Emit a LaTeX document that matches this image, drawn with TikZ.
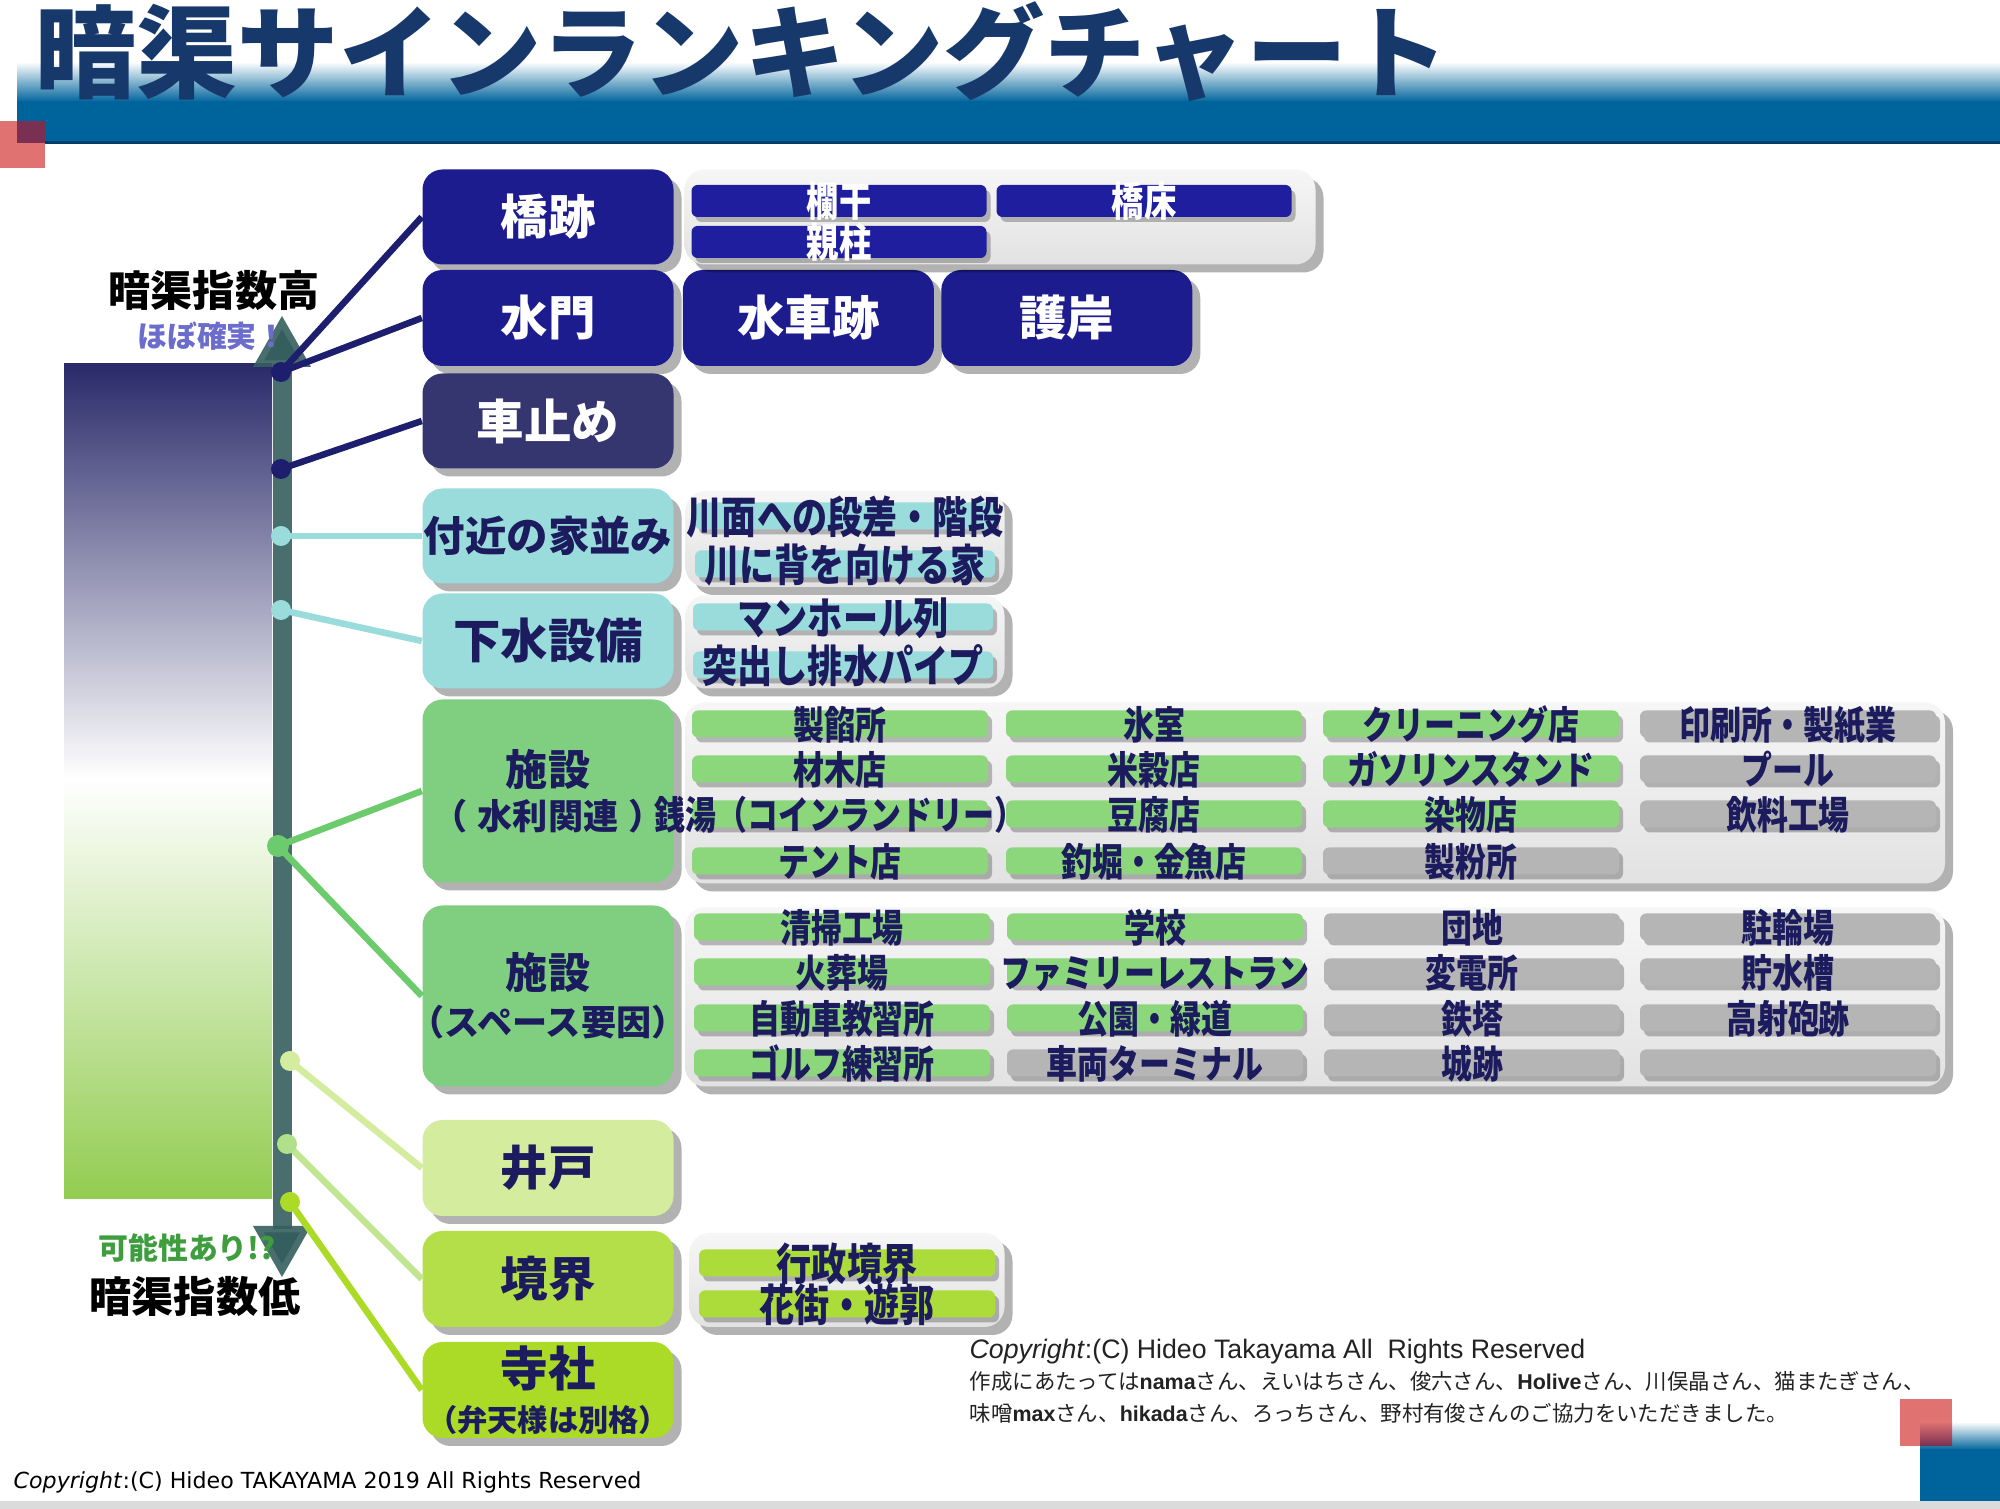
\documentclass[tikz,border=0pt]{standalone}
\usepackage{fontspec}
\setmainfont{Noto Sans CJK JP}
\newfontfamily\jpcond{Noto Sans CJK JP}[FakeStretch=0.8]
\newfontfamily\verdanalike{DejaVu Sans}
\newfontfamily\ariallike{Liberation Sans}
\usepackage{tikz}
\usetikzlibrary{arrows.meta,positioning,shadows}
\definecolor{bandblue}{HTML}{00649C}
\definecolor{bandline}{HTML}{003F6B}
\definecolor{markred}{HTML}{E07272}
\definecolor{markdark}{HTML}{7A3052}
\definecolor{titlenavy}{HTML}{17386A}
\definecolor{scalenavy}{HTML}{2A2A6A}
\definecolor{scalegreen}{HTML}{92CC50}
\definecolor{axisslate}{HTML}{355F5F}
\definecolor{hiblue}{HTML}{6C6CCC}
\definecolor{lowgreen}{HTML}{3E9E3E}
\definecolor{signnavy}{HTML}{1C1C8E}
\definecolor{barnavy}{HTML}{1E1E9E}
\definecolor{stopnavy}{HTML}{35356F}
\definecolor{inknavy}{HTML}{1B1B5E}
\definecolor{linknavy}{HTML}{1E1E6E}
\definecolor{housecyan}{HTML}{9ADCDC}
\definecolor{facgreen}{HTML}{80CF80}
\definecolor{faclink}{HTML}{6CCB6C}
\definecolor{itemgreen}{HTML}{8CD67C}
\definecolor{itemgray}{HTML}{B5B5B5}
\definecolor{wellgreen}{HTML}{D3EC9E}
\definecolor{bordergreen}{HTML}{B4DF48}
\definecolor{borderlink}{HTML}{C2E592}
\definecolor{borderbar}{HTML}{ACDC3A}
\definecolor{shrinegreen}{HTML}{ABDB26}
\definecolor{panelhi}{HTML}{F6F6F6}
\definecolor{panellow}{HTML}{E2E2E2}
\definecolor{creditink}{HTML}{222222}

\begin{document}
\begin{tikzpicture}[
  x=0.1mm, y=-0.1mm,
  softshadow/.style={drop shadow={shadow xshift=0.8mm,shadow yshift=-0.8mm,opacity=0.3,fill=black}},
  barshadow/.style={drop shadow={shadow xshift=0.4mm,shadow yshift=-0.5mm,opacity=0.25,fill=black}},
  sign/.style={rounded corners=2mm,minimum width=25.1mm,minimum height=9.5mm,inner xsep=-3mm,inner ysep=0pt,align=center,font=\bfseries\fontsize{13.5}{16}\selectfont,softshadow},
  navysign/.style={sign,fill=signnavy,text=white},
  stopsign/.style={sign,fill=stopnavy,text=white},
  housesign/.style={sign,fill=housecyan,text=inknavy},
  facsign/.style={sign,fill=facgreen,text=inknavy,minimum height=18.3mm,font=\bfseries\fontsize{12}{12.5}\selectfont},
  wellsign/.style={sign,fill=wellgreen,text=inknavy},
  bordersign/.style={sign,fill=bordergreen,text=inknavy},
  shrinesign/.style={sign,fill=shrinegreen,text=inknavy},
  panel/.style={rounded corners=2mm,inner sep=0pt,top color=panelhi,bottom color=panellow,softshadow},
  item/.style={rounded corners=0.6mm,minimum width=29.6mm,minimum height=2.7mm,inner xsep=-5mm,inner ysep=-5mm,text height=3.8mm,text depth=0.6mm,text=inknavy,font=\jpcond\bfseries\fontsize{11}{11}\selectfont,barshadow},
  bigitem/.style={item,text height=4.2mm,text depth=0.7mm,font=\jpcond\bfseries\fontsize{12.5}{12.5}\selectfont},
  navyitem/.style={item,fill=barnavy,text=white,minimum width=29.5mm,minimum height=3.2mm,font=\jpcond\bfseries\fontsize{11.5}{11.5}\selectfont},
  houseitem/.style={bigitem,fill=housecyan,minimum width=30mm},
  borderitem/.style={bigitem,fill=borderbar},
  gitem/.style={item,fill=itemgreen},
  nitem/.style={item,fill=itemgray},
  link/.style={line width=0.65mm},
  axisarrow/.style={draw=axisslate,line width=1.9mm,{Triangle[width=5.4mm,length=5.2mm]}-{Triangle[width=5.4mm,length=5.2mm]}}
]
\useasboundingbox (0,0) rectangle (2000,1509);
\fill[white] (0,0) rectangle (2000,1509);
\shade[top color=white,bottom color=bandblue] (17,62) rectangle (2000,102);
\fill[bandblue] (17,101) rectangle (2000,143);
\draw[bandline,line width=0.3mm] (17,143) -- (2000,143);
\fill[markred] (0,121) rectangle (45,168);
\fill[markdark] (17,121) rectangle (45,143);
\shade[top color=white,bottom color=bandblue] (1920,1422) rectangle (2000,1450);
\fill[bandblue] (1920,1449) rectangle (2000,1501);
\fill[markred] (1900,1399) rectangle (1952,1446);
\shade[top color=markred,bottom color=markdark] (1920,1422) rectangle (1952,1446);
\fill[black!14] (0,1501) rectangle (2000,1509);

\node[inner sep=0pt,text=titlenavy,font=\bfseries\fontsize{28.8}{30}\selectfont] (title) at (742,52) {暗渠サインランキングチャート};

\shade[top color=scalenavy,bottom color=white] (64,364) rectangle (272,779);
\shade[top color=white,bottom color=scalegreen] (64,778) rectangle (272,1199);
\coordinate (axisTop) at (282,315);
\coordinate (axisBottom) at (282,1278);
\draw[axisarrow,draw opacity=0.9] (axisTop) -- (axisBottom);
\node[font=\bfseries\fontsize{12}{14}\selectfont] (highIdx) at (214,291) {暗渠指数高};
\node[text=hiblue,font=\bfseries\fontsize{8.5}{10}\selectfont] (almostSure) at (212,336) {ほぼ確実！};
\node[text=lowgreen,font=\bfseries\fontsize{8.5}{10}\selectfont] (maybe) at (187,1248) {可能性あり!?};
\node[font=\bfseries\fontsize{12}{14}\selectfont] (lowIdx) at (195,1297) {暗渠指数低};

\node[navysign] (kyoseki) at (548,217) {橋跡};
\node[navysign,minimum height=9.6mm] (suimon) at (548,318) {水門};
\node[navysign,right=0.8mm of suimon,minimum height=9.6mm] (suisha) {水車跡};
\node[navysign,right=0.6mm of suisha,minimum height=9.6mm] (goshi) {護岸};
\node[stopsign] (kurumadome) at (548,421) {車止め};
\node[housesign,font=\bfseries\fontsize{11.8}{14}\selectfont] (yanami) at (548,536) {付近の家並み};
\node[housesign] (gesui) at (548,641) {下水設備};
\node[facsign] (facWater) at (548,791) {施設\\{\fontsize{10}{12}\selectfont （\hspace{0.3em}水利関連\hspace{0.3em}）}};
\node[facsign,minimum height=18.1mm,font=\bfseries\fontsize{12}{13.4}\selectfont] (facSpace) at (548,996) {施設\\{\fontsize{10}{12}\selectfont （スペース要因）}};
\node[wellsign,minimum height=9.6mm] (ido) at (548,1168) {井戸};
\node[bordersign,minimum height=9.6mm] (kyokai) at (548,1279) {境界};
\node[shrinesign,minimum height=9.6mm,font=\bfseries\fontsize{13.5}{12.8}\selectfont] (jisha) at (548,1390) {寺社\\{\fontsize{8.6}{10}\selectfont （弁天様は別格）}};

\coordinate (dotHigh) at (281,372);
\coordinate (dotStop) at (281,469);
\coordinate (dotHouse) at (281,536);
\coordinate (dotSewer) at (281,610);
\coordinate (dotFac) at (278,846);
\coordinate (dotWell) at (290,1061);
\coordinate (dotBorder) at (287,1144);
\coordinate (dotShrine) at (290,1202);
\draw[link,linknavy] (dotHigh) -- (kyoseki.west);
\draw[link,linknavy] (dotHigh) -- (suimon.west);
\draw[link,linknavy] (dotStop) -- (kurumadome.west);
\draw[link,housecyan] (dotHouse) -- (yanami.west);
\draw[link,housecyan] (dotSewer) -- (gesui.west);
\draw[link,faclink] (dotFac) -- (facWater.west);
\draw[link,faclink] (dotFac) -- (facSpace.west);
\draw[link,wellgreen] (dotWell) -- (ido.west);
\draw[link,borderlink] (dotBorder) -- (kyokai.west);
\draw[link,shrinegreen] (dotShrine) -- (jisha.west);
\fill[linknavy] (dotHigh) circle (1mm);
\fill[linknavy] (dotStop) circle (1mm);
\fill[housecyan] (dotHouse) circle (1mm);
\fill[housecyan] (dotSewer) circle (1mm);
\fill[faclink] (dotFac) circle (1.1mm);
\fill[wellgreen] (dotWell) circle (1mm);
\fill[borderlink!80!faclink] (dotBorder) circle (1mm);
\fill[shrinegreen] (dotShrine) circle (1mm);

\node[panel,minimum width=63.1mm,minimum height=9.5mm] (pBridge) at (1000,217) {};
\node[navyitem] (rankan) at (839,201) {欄干};
\node[navyitem] (kyosho) at (1144,201) {橋床};
\node[navyitem] (oyabashira) at (839,242) {親柱};

\node[panel,minimum width=31.9mm,minimum height=9.6mm] (pHouse) at (845,539) {};
\node[houseitem] (dansa) at (845,516) {川面への段差・階段};
\node[houseitem] (senaka) at (845,564) {川に背を向ける家};

\node[panel,minimum width=31.9mm,minimum height=9.3mm] (pSewer) at (845,642) {};
\node[houseitem] (manhole) at (843,617) {マンホール列};
\node[houseitem] (haisui) at (843,665) {突出し排水パイプ};

\node[panel,minimum width=126mm,minimum height=18.1mm] (pWater) at (1315,793) {};
\node[gitem] (seian) at (840,724) {製餡所};
\node[gitem] (himuro) at (1154,724) {氷室};
\node[gitem] (cleaning) at (1471,724) {クリーニング店};
\node[nitem] (insatsu) at (1788,724) {印刷所・製紙業};
\node[gitem] (zaimoku) at (840,769) {材木店};
\node[gitem] (beikoku) at (1154,769) {米穀店};
\node[gitem] (gasoline) at (1471,769) {ガソリンスタンド};
\node[nitem] (pool) at (1788,769) {プール};
\node[gitem] (sento) at (840,814) {銭湯（コインランドリー）};
\node[gitem] (tofu) at (1154,814) {豆腐店};
\node[gitem] (somemono) at (1471,814) {染物店};
\node[nitem] (inryo) at (1788,814) {飲料工場};
\node[gitem] (tent) at (840,861) {テント店};
\node[gitem] (tsuribori) at (1154,861) {釣堀・金魚店};
\node[nitem] (seifun) at (1471,861) {製粉所};

\node[panel,minimum width=126mm,minimum height=17.9mm] (pSpace) at (1315,997) {};
\node[gitem] (seiso) at (842,927) {清掃工場};
\node[gitem] (gakko) at (1155,927) {学校};
\node[nitem] (danchi) at (1472,927) {団地};
\node[nitem] (churin) at (1788,927) {駐輪場};
\node[gitem] (kaso) at (842,972) {火葬場};
\node[gitem] (famires) at (1155,972) {ファミリーレストラン};
\node[nitem] (henden) at (1472,972) {変電所};
\node[nitem] (chosui) at (1788,972) {貯水槽};
\node[gitem] (kyoshu) at (842,1018) {自動車教習所};
\node[gitem] (koen) at (1155,1018) {公園・緑道};
\node[nitem] (tetto) at (1472,1018) {鉄塔};
\node[nitem] (koshaho) at (1788,1018) {高射砲跡};
\node[gitem] (golf) at (842,1063) {ゴルフ練習所};
\node[nitem] (terminal) at (1155,1063) {車両ターミナル};
\node[nitem] (shiro) at (1472,1063) {城跡};
\node[nitem] (blank) at (1788,1063) {};

\node[panel,minimum width=31.5mm,minimum height=9.4mm] (pBorder) at (847,1280) {};
\node[borderitem] (gyosei) at (847,1263) {行政境界};
\node[borderitem] (hanamachi) at (847,1304) {花街・遊郭};

\node[anchor=west,inner sep=0pt,text=creditink,font=\ariallike\fontsize{7.6}{9}\selectfont] (copyRight) at (969,1352) {\textit{Copyright}:(C) Hideo Takayama All\ \ Rights Reserved};
\node[anchor=west,inner sep=0pt,align=left,text=creditink,font=\fontsize{6.1}{9.1}\selectfont] (credits) at (969,1397) {作成にあたっては{\ariallike\bfseries nama}さん、えいはちさん、俊六さん、{\ariallike\bfseries Holive}さん、川俣晶さん、猫またぎさん、\\味噌{\ariallike\bfseries max}さん、{\ariallike\bfseries hikada}さん、ろっちさん、野村有俊さんのご協力をいただきました。};
\node[anchor=west,inner sep=0pt,text=black,font=\verdanalike\fontsize{6.3}{7.5}\selectfont] (copyLeft) at (13,1482) {\textit{Copyright}:(C) Hideo TAKAYAMA 2019 All Rights Reserved};
\end{tikzpicture}
\end{document}
